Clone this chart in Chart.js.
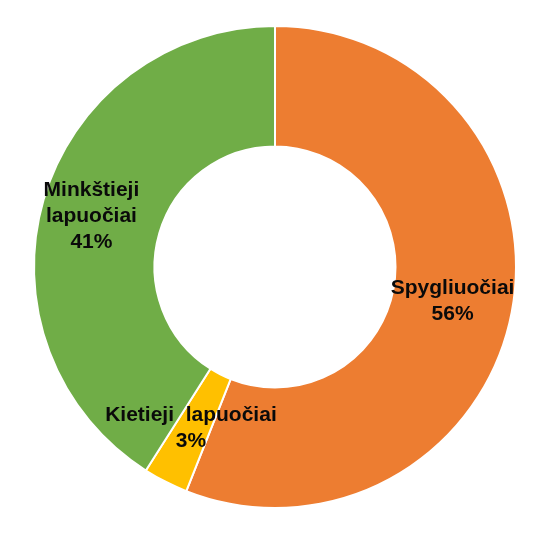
<!DOCTYPE html>
<html>
<head>
<meta charset="utf-8">
<script src="https://cdn.jsdelivr.net/npm/chart.js@4"></script>
<style>
  html, body { margin: 0; padding: 0; background: #fff; }
  #wrap { width: 540px; height: 540px; }
</style>
</head>
<body>
<div id="wrap"><canvas id="woodChart" width="540" height="540"></canvas></div>
<script>
const categories = ['Spygliuočiai', 'Kietieji  lapuočiai', 'Minkštieji lapuočiai'];
const labelLines = [['Spygliuočiai'], ['Kietieji  lapuočiai'], ['Minkštieji', 'lapuočiai']];
const shares = [56, 3, 41];
const colors = ['#ED7D31', '#FFC000', '#70AD47'];

// draws category name + percent on each slice
const sliceLabels = {
    id: 'sliceLabels',
    afterDatasetsDraw(chart) {
        const ctx = chart.ctx;
        const meta = chart.getDatasetMeta(0);
        const nudgeX = [0, -2, -10];
        ctx.save();
        ctx.font = 'bold 21px "Liberation Sans", Arial, sans-serif';
        ctx.fillStyle = '#0a0a0a';
        ctx.textAlign = 'center';
        ctx.textBaseline = 'middle';
        meta.data.forEach((arc, i) => {
            const pos = arc.tooltipPosition();
            const lines = labelLines[i].concat([shares[i] + '%']);
            const lh = 26;
            const top = pos.y - (lines.length - 1) * lh / 2;
            lines.forEach((t, j) => ctx.fillText(t, pos.x + nudgeX[i], top + j * lh));
        });
        ctx.restore();
    }
};

const ctx = document.getElementById('woodChart').getContext('2d');
const woodChart = new Chart(ctx, {
    type: 'doughnut',
    data: {
        labels: categories,
        datasets: [{
            data: shares,
            backgroundColor: colors,
            borderColor: '#ffffff',
            borderWidth: 2
        }]
    },
    options: {
        responsive: false,
        animation: false,
        cutout: '50%',
        layout: { padding: { left: 33, right: 23, top: 25, bottom: 31 } },
        plugins: {
            legend: { display: false },
            tooltip: { enabled: false }
        }
    },
    plugins: [sliceLabels]
});
</script>
</body>
</html>
